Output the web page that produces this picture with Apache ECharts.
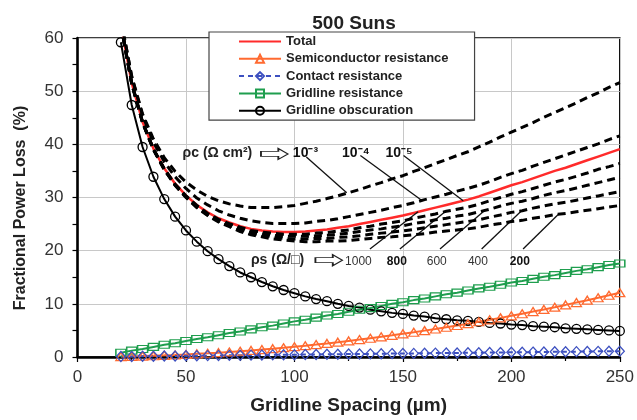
<!DOCTYPE html>
<html>
<head>
<meta charset="utf-8">
<script src="https://cdn.jsdelivr.net/npm/echarts@6/dist/echarts.min.js"></script>
<style>
  html, body { margin: 0; padding: 0; background: #fff; }
  #chart { width: 637px; height: 420px; }
</style>
</head>
<body>
<div id="chart"></div>
<script>
// Gridline spacing (µm)
const spacing = [20,25,30,35,40,45,50,55,60,65,70,75,80,85,90,95,100,105,110,115,120,125,130,135,140,145,150,155,160,165,170,175,180,185,190,195,200,205,210,215,220,225,230,235,240,245,250];

// Loss components (%), rho_c = 1e-5 Ohm cm2, rho_s = 1000 Ohm/sq
const totalLoss = [62.5,51.5,44.2,39.2,35.5,32.6,30.4,28.6,27.2,26.1,25.3,24.6,24.1,23.8,23.6,23.5,23.5,23.6,23.8,24.0,24.3,24.6,25.0,25.4,25.8,26.2,26.6,27.1,27.6,28.1,28.6,29.1,29.6,30.2,30.9,31.6,32.3,32.9,33.6,34.3,35.0,35.6,36.3,37.0,37.7,38.4,39.1];
const semiconductorRes = [0.08,0.12,0.17,0.24,0.31,0.39,0.48,0.59,0.70,0.82,0.95,1.09,1.24,1.40,1.57,1.75,1.94,2.13,2.34,2.56,2.79,3.03,3.27,3.53,3.79,4.07,4.36,4.65,4.96,5.27,5.60,5.93,6.27,6.63,6.99,7.36,7.74,8.14,8.54,8.95,9.37,9.80,10.24,10.69,11.15,11.62,12.10];
const contactRes = [0.09,0.11,0.13,0.15,0.18,0.20,0.22,0.24,0.26,0.29,0.31,0.33,0.35,0.37,0.40,0.42,0.44,0.46,0.48,0.51,0.53,0.55,0.57,0.59,0.62,0.64,0.66,0.68,0.70,0.73,0.75,0.77,0.79,0.81,0.84,0.86,0.88,0.90,0.92,0.95,0.97,0.99,1.01,1.03,1.06,1.08,1.10];
const gridlineRes = [0.8,1.2,1.5,1.9,2.3,2.6,3.0,3.4,3.7,4.1,4.5,4.8,5.2,5.6,5.9,6.3,6.7,7.0,7.4,7.8,8.1,8.5,8.9,9.2,9.6,10.0,10.3,10.7,11.0,11.4,11.8,12.1,12.5,12.9,13.2,13.6,14.0,14.3,14.7,15.1,15.4,15.8,16.2,16.5,16.9,17.3,17.6];
const gridlineObsc = [59.2,47.4,39.5,33.9,29.7,26.4,23.8,21.7,19.9,18.4,17.1,15.9,15.0,14.1,13.3,12.6,12.0,11.4,10.9,10.5,10.0,9.6,9.3,8.9,8.6,8.3,8.1,7.8,7.6,7.3,7.1,6.9,6.8,6.6,6.4,6.3,6.1,6.0,5.8,5.7,5.6,5.4,5.3,5.2,5.1,5.0,4.9];

// Total loss for other contact resistivities (rho_s = 1000)
const totalRhoC1e3 = [63.5,52.8,45.7,41.0,37.5,34.9,32.9,31.4,30.2,29.4,28.8,28.4,28.1,28.1,28.1,28.3,28.5,28.9,29.3,29.8,30.3,30.9,31.5,32.2,32.8,33.5,34.1,34.9,35.6,36.4,37.1,37.9,38.6,39.5,40.4,41.4,42.3,43.2,44.1,45.1,46.0,46.9,47.8,48.8,49.7,50.7,51.6];
const totalRhoC1e4 = [63.6,52.7,45.4,40.4,36.7,33.9,31.7,29.9,28.6,27.5,26.7,26.1,25.6,25.3,25.1,25.1,25.1,25.2,25.5,25.7,26.0,26.4,26.8,27.2,27.6,28.1,28.5,29.0,29.6,30.1,30.6,31.2,31.7,32.3,33.0,33.8,34.5,35.1,35.9,36.6,37.3,38.0,38.7,39.4,40.1,40.9,41.6];

// Total loss for other sheet resistances (rho_c = 1e-5)
const totalRhoS800 = [62.5,51.5,44.2,39.1,35.4,32.5,30.3,28.5,27.0,25.9,25.1,24.4,23.8,23.5,23.3,23.1,23.1,23.1,23.3,23.4,23.7,23.9,24.3,24.6,25.0,25.3,25.6,26.1,26.5,26.9,27.4,27.8,28.2,28.7,29.4,30.0,30.6,31.1,31.7,32.3,32.9,33.4,34.0,34.6,35.3,35.8,36.4];
const totalRhoS600 = [62.5,51.4,44.1,39.1,35.4,32.4,30.2,28.3,26.9,25.7,24.9,24.1,23.6,23.2,22.9,22.7,22.7,22.7,22.8,22.9,23.1,23.3,23.6,23.9,24.1,24.4,24.7,25.1,25.4,25.8,26.1,26.5,26.8,27.3,27.8,28.4,28.9,29.3,29.8,30.4,30.9,31.3,31.8,32.3,32.8,33.3,33.8];
const totalRhoS400 = [62.4,51.4,44.1,39.0,35.3,32.3,30.1,28.2,26.7,25.6,24.7,23.9,23.3,22.9,22.6,22.3,22.2,22.2,22.3,22.3,22.5,22.6,22.8,23.1,23.3,23.5,23.7,24.0,24.3,24.6,24.9,25.2,25.5,25.8,26.3,26.7,27.2,27.5,28.0,28.4,28.8,29.1,29.5,29.9,30.3,30.7,31.1];
const totalRhoS200 = [62.4,51.4,44.1,39.0,35.2,32.3,30.0,28.1,26.6,25.4,24.5,23.6,23.0,22.6,22.2,22.0,21.8,21.7,21.7,21.8,21.8,21.9,22.1,22.3,22.5,22.6,22.8,23.0,23.2,23.5,23.7,23.9,24.1,24.4,24.8,25.1,25.5,25.7,26.1,26.4,26.8,27.0,27.3,27.6,27.9,28.2,28.5];

// Axis ticks
const xTicks = [0, 50, 100, 150, 200, 250];
const yTicks = [0, 10, 20, 30, 40, 50, 60];

const FONT = 'Liberation Sans, Arial, Helvetica, sans-serif';
const pairs = ys => spacing.map((x, i) => [x, ys[i]]);

function markerSeries(name, ys, symbol, size, color, dashed) {
  return {
    name, type: 'line', data: pairs(ys), symbol, symbolSize: size, z: 3,
    lineStyle: { color, width: 2, type: dashed ? [5, 4] : 'solid' },
    itemStyle: { color: 'rgba(255,255,255,0)', borderColor: color, borderWidth: 1.3 },
    emphasis: { disabled: true }
  };
}
function dashedTotal(name, ys) {
  return {
    name, type: 'line', data: pairs(ys), symbol: 'none', z: 5, silent: true,
    lineStyle: { color: '#000', width: 3, type: [8, 5] },
    emphasis: { disabled: true }
  };
}

// Text labels placed in data units
function textMark(coord, text, size, weight, color) {
  return {
    coord, symbol: 'circle', symbolSize: 0,
    label: { show: true, position: 'inside', formatter: text, fontFamily: FONT,
             fontSize: size, fontWeight: weight, color }
  };
}
const ARROW = 'path://M0,3 L18,3 L18,0 L28,5.5 L18,11 L18,8 L0,8 Z';
function arrowMark(coord) {
  return {
    coord, symbol: ARROW, symbolSize: [27, 11], symbolKeepAspect: false,
    itemStyle: { color: '#fff', borderColor: '#222', borderWidth: 1.2 },
    label: { show: false }
  };
}
const leader = (a, b) => [{ coord: a }, { coord: b }];

const chart = echarts.init(document.getElementById('chart'), null, { renderer: 'canvas' });

chart.setOption({
  animation: false,
  backgroundColor: '#fff',
  textStyle: { fontFamily: FONT },
  title: {
    text: '500 Suns', left: 349, top: 9, textAlign: 'center',
    textStyle: { fontFamily: FONT, fontSize: 19, fontWeight: 'bold', color: '#222' }
  },
  legend: {
    data: [
      { name: 'Total', itemStyle: { opacity: 0 } },
      'Semiconductor resistance', 'Contact resistance', 'Gridline resistance', 'Gridline obscuration'
    ],
    orient: 'vertical', left: 209, top: 32,
    backgroundColor: '#fff', borderColor: '#444', borderWidth: 1.2,
    padding: [2, 26, 2, 29], itemWidth: 42, itemHeight: 10, itemGap: 2.3,
    selectedMode: false,
    textStyle: { fontFamily: FONT, fontSize: 13, fontWeight: 'bold', color: '#222', lineHeight: 15 }
  },
  grid: {
    left: 77.5, right: 17, top: 38, bottom: 62.3,
    show: true, borderColor: '#000', borderWidth: 1.5, backgroundColor: 'transparent'
  },
  xAxis: {
    type: 'value', min: xTicks[0], max: xTicks[xTicks.length - 1], interval: xTicks[1] - xTicks[0],
    name: 'Gridline Spacing (µm)', nameLocation: 'middle', nameGap: 39,
    nameTextStyle: { fontFamily: FONT, fontSize: 19, fontWeight: 'bold', color: '#222' },
    axisLine: { lineStyle: { color: '#000', width: 2.5 } },
    axisTick: { show: true, inside: false, length: 5, lineStyle: { color: '#000', width: 1.2 } },
    minorTick: { show: true, splitNumber: 2, length: 4, lineStyle: { color: '#000', width: 1.2 } },
    splitLine: { show: true, lineStyle: { color: '#c8c8c8', width: 1 } },
    axisLabel: { fontFamily: FONT, fontSize: 17, color: '#333', margin: 12 }
  },
  yAxis: {
    type: 'value', min: yTicks[0], max: yTicks[yTicks.length - 1], interval: yTicks[1] - yTicks[0],
    axisLine: { show: true, lineStyle: { color: '#000', width: 2.5 } },
    axisTick: { show: true, inside: false, length: 5, lineStyle: { color: '#000', width: 1.2 } },
    minorTick: { show: true, splitNumber: 2, length: 5, lineStyle: { color: '#000', width: 1.2 } },
    splitLine: { show: true, lineStyle: { color: '#c8c8c8', width: 1 } },
    axisLabel: { fontFamily: FONT, fontSize: 17, color: '#333', margin: 14 }
  },
  graphic: [{
    type: 'text', x: 21, y: 208, rotation: Math.PI / 2,
    style: { text: 'Fractional Power Loss  (%)', fontFamily: FONT, fontSize: 16, fontWeight: 'bold',
             fill: '#222', textAlign: 'center', textVerticalAlign: 'middle' }
  }],
  series: [
    markerSeries('Gridline obscuration', gridlineObsc, 'circle', 9, '#000', false),
    markerSeries('Gridline resistance', gridlineRes, 'rect', [10, 7], '#1f9e4e', false),
    markerSeries('Semiconductor resistance', semiconductorRes, 'triangle', [10, 8], '#ff6a30', false),
    markerSeries('Contact resistance', contactRes, 'diamond', [9, 10], '#3d50c0', true),
    {
      name: 'Total', type: 'line', data: pairs(totalLoss), symbol: 'none', z: 4,
      lineStyle: { color: '#ff2b2b', width: 2.5 }, itemStyle: { color: '#ff2b2b' },
      emphasis: { disabled: true }
    },
    dashedTotal('rho_c 1e-3', totalRhoC1e3),
    dashedTotal('rho_c 1e-4', totalRhoC1e4),
    dashedTotal('rho_s 800', totalRhoS800),
    dashedTotal('rho_s 600', totalRhoS600),
    dashedTotal('rho_s 400', totalRhoS400),
    dashedTotal('rho_s 200', totalRhoS200),
    {
      name: 'labels', type: 'line', data: [], silent: true, z: 6,
      markPoint: {
        silent: true, animation: false,
        data: [
          textMark([64.5, 38.3], 'ρc (Ω cm²)', 14, 'bold', '#222'),
          arrowMark([90.8, 38.2]),
          textMark([105.1, 38.4], '10⁻³', 14, 'bold', '#111'),
          textMark([128.3, 38.4], '10⁻⁴', 14, 'bold', '#111'),
          textMark([148.2, 38.4], '10⁻⁵', 14, 'bold', '#111'),
          textMark([92.2, 18.3], 'ρs (Ω/□)', 14, 'bold', '#222'),
          arrowMark([115.9, 18.2]),
          textMark([129.5, 17.9], '1000', 12, 'normal', '#333'),
          textMark([147.2, 17.9], '800', 12, 'bold', '#111'),
          textMark([165.6, 17.9], '600', 12, 'normal', '#333'),
          textMark([184.6, 17.9], '400', 12, 'normal', '#333'),
          textMark([203.9, 17.9], '200', 12, 'bold', '#111')
        ]
      },
      markLine: {
        silent: true, animation: false, symbol: ['none', 'none'],
        lineStyle: { color: '#111', width: 1.3, type: 'solid' },
        label: { show: false }, emphasis: { disabled: true },
        data: [
          leader([105.5, 37.6], [124.1, 30.9]),
          leader([130.4, 37.9], [158.6, 29.5]),
          leader([150.3, 37.9], [177.8, 29.4]),
          leader([134.8, 20.3], [157.0, 27.3]),
          leader([148.6, 20.3], [169.4, 27.3]),
          leader([167.1, 20.3], [187.8, 27.6]),
          leader([186.3, 20.3], [204.7, 27.5]),
          leader([205.4, 20.3], [221.6, 26.8])
        ]
      }
    }
  ]
});
</script>
</body>
</html>
